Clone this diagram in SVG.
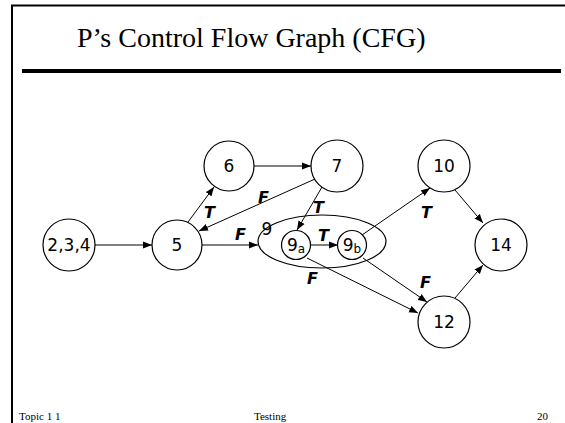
<svg xmlns="http://www.w3.org/2000/svg" width="565" height="423" viewBox="0 0 565 423">
  <style>
    .node { fill: #fff; stroke: #000; stroke-width: 1.2; }
    .lbl { font-family: "DejaVu Sans", Verdana, sans-serif; font-size: 17px; fill: #000; text-anchor: middle; }
    .sub { font-size: 12px; }
    .edge { stroke: #000; stroke-width: 1; fill: none; marker-end: url(#arrow); }
    .tf { font-family: "DejaVu Sans", Verdana, sans-serif; font-size: 16px; font-weight: bold; font-style: italic; fill: #000; }
    .title { font-family: "Liberation Serif", "Times New Roman", serif; font-size: 28px; fill: #000; }
    .foot { font-family: "Liberation Serif", "Times New Roman", serif; font-size: 11px; fill: #000; }
  </style>
  <defs>
    <marker id="arrow" markerUnits="userSpaceOnUse" markerWidth="10" markerHeight="8" refX="9" refY="4" orient="auto">
      <path d="M0,0.5 L9,4 L0,7.5 Z" fill="#000"/>
    </marker>
  </defs>

  <rect x="0" y="0" width="565" height="423" fill="#fff"/>

  <!-- slide frame -->
  <line x1="11" y1="5.5" x2="565" y2="5.5" stroke="#000" stroke-width="2"/>
  <line x1="12" y1="5" x2="12" y2="423" stroke="#000" stroke-width="2"/>
  <line x1="22" y1="71" x2="561" y2="71" stroke="#000" stroke-width="4"/>

  <text class="title" x="77" y="47">P’s Control Flow Graph (CFG)</text>

  <!-- connectors -->
  <g id="edges">
    <line class="edge" x1="188" y1="222" x2="214" y2="187"/>
    <line class="edge" x1="95" y1="245" x2="152" y2="245"/>
    <line class="edge" x1="254" y1="166" x2="311" y2="166"/>
    <line class="edge" x1="315" y1="179" x2="199" y2="231"/>
    <line class="edge" x1="322" y1="187" x2="297" y2="230"/>
    <line class="edge" x1="202" y1="245" x2="258" y2="245"/>
    <line class="edge" x1="310" y1="245" x2="338" y2="245"/>
    <line class="edge" x1="362" y1="235" x2="430" y2="188"/>
    <line class="edge" x1="307" y1="258" x2="418" y2="313"/>
    <line class="edge" x1="363" y1="258" x2="427" y2="302"/>
    <line class="edge" x1="455" y1="190" x2="483" y2="223"/>
    <line class="edge" x1="455" y1="298" x2="483" y2="265"/>

    <text class="tf" x="204" y="218">T</text>
    <text class="tf" x="258" y="203">F</text>
    <text class="tf" x="313" y="213">T</text>
    <text class="tf" x="235" y="240">F</text>
    <text class="tf" x="318" y="241">T</text>
    <text class="tf" x="421" y="218">T</text>
    <text class="tf" x="307" y="284">F</text>
    <text class="tf" x="420" y="288">F</text>
  </g>

  <!-- nodes -->
  <g id="n234">
    <circle class="node" cx="69" cy="245" r="26"/>
    <text class="lbl" x="69" y="251">2,3,4</text>
  </g>
  <g id="n5">
    <circle class="node" cx="177" cy="245" r="25"/>
    <text class="lbl" x="177" y="251">5</text>
  </g>
  <g id="n6">
    <circle class="node" cx="229" cy="166" r="25"/>
    <text class="lbl" x="229" y="172">6</text>
  </g>
  <g id="n7">
    <circle class="node" cx="337" cy="166" r="26"/>
    <text class="lbl" x="337" y="172">7</text>
  </g>
  <g id="n9">
    <ellipse cx="322" cy="241.5" rx="64" ry="26.5" fill="none" stroke="#000" stroke-width="1.2"/>
    <text class="lbl" x="267" y="235">9</text>
  </g>
  <g id="n9a">
    <circle class="node" cx="296" cy="245" r="14.5"/>
    <text class="lbl" x="296" y="251">9<tspan class="sub" dy="2">a</tspan></text>
  </g>
  <g id="n9b">
    <circle class="node" cx="352" cy="245" r="14.5"/>
    <text class="lbl" x="352" y="251">9<tspan class="sub" dy="2">b</tspan></text>
  </g>
  <g id="n10">
    <circle class="node" cx="444" cy="166" r="26"/>
    <text class="lbl" x="444" y="172">10</text>
  </g>
  <g id="n12">
    <circle class="node" cx="444" cy="322" r="26"/>
    <text class="lbl" x="444" y="328">12</text>
  </g>
  <g id="n14">
    <circle class="node" cx="501" cy="245" r="26"/>
    <text class="lbl" x="501" y="251">14</text>
  </g>

  <!-- footer -->
  <text class="foot" x="19" y="420">Topic 1 1</text>
  <text class="foot" x="254" y="420">Testing</text>
  <text class="foot" x="537" y="420">20</text>
</svg>
